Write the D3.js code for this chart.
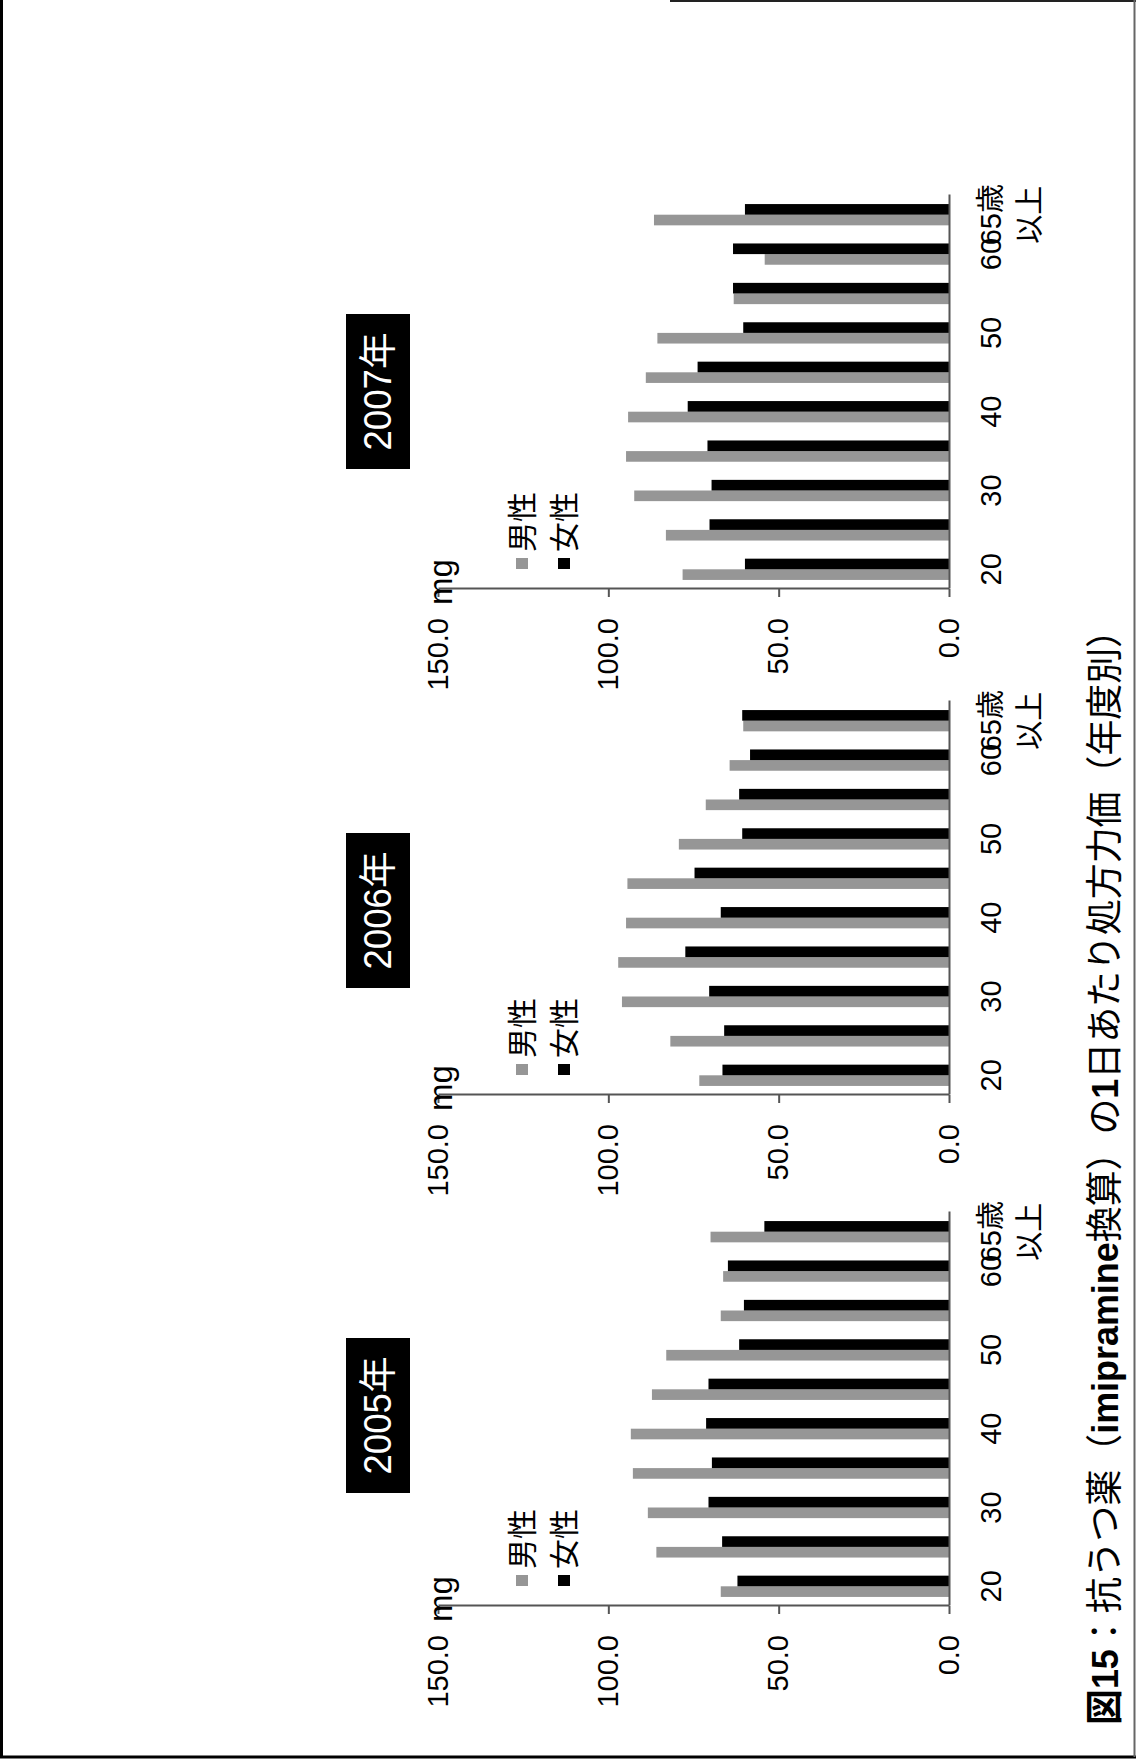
<!DOCTYPE html>
<html><head><meta charset="utf-8">
<script src="https://cdn.jsdelivr.net/npm/d3@7"></script>
<style>body{margin:0;background:#fff}</style>
</head><body>
<svg id="c" width="1136" height="1760"></svg>
<script>
// ---- data ----
const categories = ["20","25","30","35","40","45","50","55","60","65歳以上"];
const shownTicks = ["20","30","40","50","60","65歳以上"];
const seriesNames = ["男性","女性"];
const years = ["2005年","2006年","2007年"];
const male2005   = [67.0, 85.9, 88.4, 92.8, 93.4, 87.2, 83.0, 67.0, 66.3, 70.0];
const female2005 = [62.1, 66.6, 70.6, 69.6, 71.3, 70.6, 61.6, 60.2, 64.9, 54.2];
const male2006   = [73.3, 81.8, 96.0, 97.1, 94.8, 94.4, 79.3, 71.4, 64.4, 60.4];
const female2006 = [66.5, 66.0, 70.4, 77.4, 67.0, 74.7, 60.7, 61.6, 58.4, 60.7];
const male2007   = [78.2, 83.1, 92.4, 94.8, 94.2, 89.0, 85.6, 63.2, 54.1, 86.6];
const female2007 = [59.9, 70.3, 69.7, 70.9, 76.7, 73.8, 60.4, 63.4, 63.4, 59.9];
const yTicks = [0, 50, 100, 150];
const unitLabel = "mg";
const captionParts = [["図15", true], ["：抗うつ薬（", false], ["imipramine", true], ["換算）の", false], ["1", true], ["日あたり処方力価（年度別）", false]];

// ---- layout ----
const W = 1136, H = 1760;
const LATIN = "'Liberation Sans', Arial, 'Noto Sans CJK JP', sans-serif";
const CJK = "'Noto Sans CJK JP', sans-serif";
const svg = d3.select("#c");
svg.append("rect").attr("width", W).attr("height", H).attr("fill", "#fff");

// page frame
svg.append("line").attr("x1", 1.5).attr("y1", 0).attr("x2", 1.5).attr("y2", 1757).attr("stroke", "#000").attr("stroke-width", 3);
svg.append("line").attr("x1", 0).attr("y1", 1757).attr("x2", W).attr("y2", 1757).attr("stroke", "#000").attr("stroke-width", 3);
svg.append("line").attr("x1", 670).attr("y1", 1).attr("x2", W).attr("y2", 1).attr("stroke", "#222").attr("stroke-width", 2);
svg.append("line").attr("x1", 1134.5).attr("y1", 0).attr("x2", 1134.5).attr("y2", 1757).attr("stroke", "#666").attr("stroke-width", 2);

// whole chart is drawn upright, then turned a quarter turn counter-clockwise
const g = svg.append("g").attr("transform", `translate(0,${H}) rotate(-90)`);

const y = d3.scaleLinear().domain([0, 150]).range([949, 438]);
const panelStart = [154, 665, 1171];
const titleStart = [267, 772, 1291];
const span = 394;
const data = [[male2005, female2005], [male2006, female2006], [male2007, female2007]];
const colors = ["#969696", "#000"];

data.forEach((vals, i) => {
  const u0 = panelStart[i];
  const x = d3.scaleBand().domain(categories).range([u0, u0 + span]).paddingInner(0.46).paddingOuter(0.23);
  const xs = d3.scaleBand().domain(seriesNames).range([0, x.bandwidth()]);
  const p = g.append("g");

  seriesNames.forEach((s, k) => {
    p.append("g").selectAll("rect").data(vals[k]).join("rect")
      .attr("x", (d, j) => x(categories[j]) + xs(s))
      .attr("width", xs.bandwidth())
      .attr("y", d => y(d))
      .attr("height", d => y(0) - y(d))
      .attr("fill", colors[k]);
  });

  // value axis
  const ya = p.append("g").attr("transform", `translate(${u0},0)`)
    .call(d3.axisLeft(y).tickValues(yTicks).tickFormat(d3.format(".1f")).tickSize(8).tickSizeOuter(0).tickPadding(21));
  ya.select(".domain").attr("stroke", "#555").attr("stroke-width", 2);
  ya.selectAll(".tick line").attr("stroke", "#555").attr("stroke-width", 2);
  ya.selectAll(".tick text").attr("font-size", 29).attr("font-family", LATIN).attr("fill", "#000");

  // category axis
  const xa = p.append("g").attr("transform", `translate(0,${y(0)})`)
    .call(d3.axisBottom(x).tickSize(0).tickSizeOuter(0).tickFormat(d => shownTicks.includes(d) ? d : ""));
  xa.select(".domain").attr("stroke", "#555").attr("stroke-width", 2);
  xa.selectAll(".tick text")
    .attr("font-size", 29).attr("font-family", LATIN).attr("fill", "#000")
    .attr("dy", null).attr("y", 52)
    .each(function (d) {
      if (d === categories[categories.length - 1]) {
        const t = d3.select(this).text("");
        t.append("tspan").attr("x", 0).attr("y", 52).text("65歳");
        t.append("tspan").attr("x", 0).attr("y", 91).text("以上");
      }
    });

  // unit
  p.append("text").attr("x", u0 - 16).attr("y", 452).attr("font-size", 33).attr("font-family", LATIN).text(unitLabel);

  // legend
  seriesNames.forEach((s, k) => {
    const v = [522, 564][k];
    p.append("rect").attr("x", u0 + 20).attr("y", v - 6).attr("width", 11).attr("height", 12).attr("fill", colors[k]);
    p.append("text").attr("x", u0 + 37).attr("y", v + 11).attr("font-size", 30).attr("font-family", CJK).text(s);
  });

  // year title
  const ts = titleStart[i];
  p.append("rect").attr("x", ts).attr("y", 346).attr("width", 155).attr("height", 64).attr("fill", "#000");
  p.append("text").attr("x", ts + 77.5).attr("y", 391).attr("text-anchor", "middle")
    .attr("font-size", 38).attr("font-family", LATIN).attr("fill", "#fff")
    .attr("textLength", 118).attr("lengthAdjust", "spacingAndGlyphs").text(years[i]);
});

// caption
const cap = g.append("text").attr("x", 35).attr("y", 1118).attr("font-size", 37).attr("font-family", LATIN)
  .attr("textLength", 1113).attr("lengthAdjust", "spacingAndGlyphs");
captionParts.forEach(([t, b]) => cap.append("tspan").attr("font-weight", b ? "bold" : "normal").text(t));
</script>
</body></html>
